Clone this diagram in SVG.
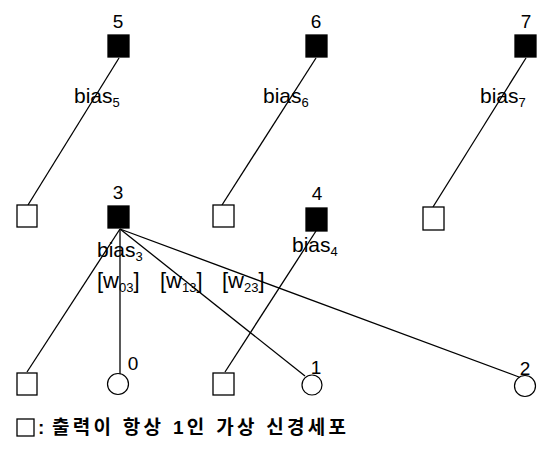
<svg xmlns="http://www.w3.org/2000/svg" width="540" height="457" viewBox="0 0 540 457">
  <style>
    .bg { fill: #ffffff; }
    .unit { fill: #000000; stroke: #000000; stroke-width: 1.3; }
    .virt { fill: #ffffff; stroke: #000000; stroke-width: 1.3; }
    .inp { fill: #ffffff; stroke: #000000; stroke-width: 1.2; }
    .edge { stroke: #000000; stroke-width: 1.3; fill: none; }
    .num { font-family: "Liberation Sans", Arial, sans-serif; font-size: 19px; fill: #000000; text-anchor: middle; }
    .lbl { font-family: "Liberation Sans", Arial, sans-serif; font-size: 21px; fill: #000000; }
    .wl { font-family: "Liberation Sans", Arial, sans-serif; font-size: 22px; fill: #000000; }
    .sub { font-size: 13px; }
    .legend { font-family: "Liberation Sans", "Noto Sans CJK KR", sans-serif; font-size: 19px; font-weight: bold; fill: #000000; }
  </style>
  <rect class="bg" x="0" y="0" width="540" height="457"/>

  <!-- weight / bias labels (drawn under the connectors) -->
  <g id="labels">
    <text class="lbl" x="74" y="103">bias<tspan class="sub" dy="4">5</tspan></text>
    <text class="lbl" x="263" y="103">bias<tspan class="sub" dy="4">6</tspan></text>
    <text class="lbl" x="480" y="103">bias<tspan class="sub" dy="4">7</tspan></text>
    <text class="lbl" x="97" y="257">bias<tspan class="sub" dy="4">3</tspan></text>
    <text class="lbl" x="292" y="252">bias<tspan class="sub" dy="4">4</tspan></text>
    <text class="wl" x="97" y="288">[w<tspan class="sub" dy="4">03</tspan><tspan dy="-4">]</tspan></text>
    <text class="wl" x="160" y="288">[w<tspan class="sub" dy="4">13</tspan><tspan dy="-4">]</tspan></text>
    <text class="wl" x="222" y="288">[w<tspan class="sub" dy="4">23</tspan><tspan dy="-4">]</tspan></text>
  </g>

  <!-- connectors -->
  <g id="connectors">
    <line class="edge" x1="119" y1="58" x2="28" y2="205"/>
    <line class="edge" x1="316" y1="58" x2="222" y2="205"/>
    <line class="edge" x1="526" y1="58" x2="433" y2="207"/>
    <line class="edge" x1="120" y1="229" x2="27" y2="372"/>
    <line class="edge" x1="120" y1="229" x2="120" y2="374"/>
    <line class="edge" x1="120" y1="229" x2="305" y2="376"/>
    <line class="edge" x1="120" y1="229" x2="519" y2="377"/>
    <line class="edge" x1="316" y1="231" x2="225" y2="372"/>
  </g>

  <!-- output layer -->
  <g id="n5"><rect class="unit" x="108" y="35" width="21" height="22"/><text class="num" x="118" y="28">5</text></g>
  <g id="n6"><rect class="unit" x="306" y="35" width="21" height="22"/><text class="num" x="316" y="28">6</text></g>
  <g id="n7"><rect class="unit" x="515" y="35" width="21" height="22"/><text class="num" x="526" y="28">7</text></g>

  <!-- hidden layer -->
  <g id="v5"><rect class="virt" x="17" y="205" width="20" height="22"/></g>
  <g id="n3"><rect class="unit" x="108" y="206" width="21" height="22"/><text class="num" x="118" y="199">3</text></g>
  <g id="v6"><rect class="virt" x="213" y="205" width="21" height="22"/></g>
  <g id="n4"><rect class="unit" x="306" y="208" width="21" height="23"/><text class="num" x="317" y="200">4</text></g>
  <g id="v7"><rect class="virt" x="423" y="207" width="21" height="23"/></g>

  <!-- input layer -->
  <g id="v3"><rect class="virt" x="17" y="373" width="20" height="22"/></g>
  <g id="n0"><circle class="inp" cx="118" cy="384" r="10.5"/><text class="num" x="133" y="370">0</text></g>
  <g id="v4"><rect class="virt" x="213" y="373" width="21" height="22"/></g>
  <g id="n1"><circle class="inp" cx="312" cy="385" r="10"/><text class="num" x="316" y="374">1</text></g>
  <g id="n2"><circle class="inp" cx="525" cy="386" r="10.5"/><text class="num" x="525" y="375">2</text></g>

  <!-- legend -->
  <g id="legend">
    <rect class="virt" x="17" y="419" width="17" height="17"/>
    <text class="legend" x="38" y="434">:</text>
    <text class="legend" x="52" y="434" textLength="294" lengthAdjust="spacing">출력이 항상 1인 가상 신경세포</text>
  </g>
</svg>
